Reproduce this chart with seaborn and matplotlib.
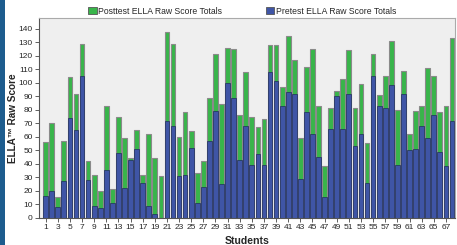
import matplotlib
matplotlib.use("Agg")
import matplotlib.pyplot as plt
import seaborn as sns
import pandas as pd
from matplotlib.patches import Rectangle, Patch

students = list(range(1, 69))
posttest = [56, 70, 15, 57, 104, 92, 129, 42, 32, 20, 83, 21, 75, 59, 44, 65, 32,
            62, 44, 31, 138, 129, 60, 78, 64, 33, 42, 89, 121, 84, 126, 125, 76,
            108, 75, 67, 73, 128, 128, 97, 135, 117, 59, 112, 125, 83, 38, 81, 94,
            103, 124, 81, 99, 55, 121, 91, 105, 131, 80, 109, 62, 79, 83, 111, 105,
            78, 83, 133]
pretest = [16, 20, 8, 27, 74, 65, 105, 28, 9, 7, 35, 11, 48, 22, 43, 51, 26,
           9, 3, 0, 72, 68, 31, 32, 52, 11, 23, 57, 79, 25, 100, 89, 43,
           68, 39, 47, 39, 108, 101, 83, 93, 92, 29, 78, 62, 45, 15, 66, 90,
           66, 92, 53, 62, 26, 105, 83, 81, 98, 39, 92, 50, 51, 68, 59, 76,
           49, 38, 72]

df = pd.DataFrame({"Student": [str(s) for s in students],
                   "Post": posttest, "Pre": pretest})

sns.set_style("white")
plt.rcParams["font.family"] = ["Liberation Sans", "DejaVu Sans"]

fig = plt.figure(figsize=(4.57, 2.45), dpi=100)
ax = fig.add_axes([0.0853, 0.1114, 0.9103, 0.8151])

green = "#38b54a"
blue = "#3f55a6"
edge = "#8a8a8a"

sns.barplot(data=df, x="Student", y="Post", color=green, saturation=1,
            width=0.78, edgecolor=edge, linewidth=0.8, ax=ax)
sns.barplot(data=df, x="Student", y="Pre", color=blue, saturation=1,
            width=0.78, edgecolor="#1f2d5c", linewidth=0.5, ax=ax)

ax.set_facecolor("#efefef")
ax.set_xlim(-1.1, 67.5)
ax.set_ylim(0, 148)
ax.set_yticks(range(0, 141, 10))
ax.set_xticks(range(0, 68, 2))
ax.set_xticklabels([str(s) for s in students[0:68:2]])
ax.tick_params(axis="both", labelsize=6, length=3, width=0.6, color="#444444",
               pad=1.5, direction="out", bottom=True, left=True)
for s in ax.spines.values():
    s.set_color("#aaaaaa")
    s.set_linewidth(0.8)
ax.spines["left"].set_color("#555555")
ax.spines["bottom"].set_color("#555555")

ax.set_xlabel("Students", fontsize=7.6, fontweight="bold")
ax.set_ylabel("ELLA\u2122 Raw Score", fontsize=7.2, fontweight="bold")
ax.xaxis.set_label_coords(0.5, -0.092)
ax.yaxis.set_label_coords(-0.05, 0.5)

handles = [Patch(facecolor=green, edgecolor="#555555", linewidth=0.6,
                 label="Posttest ELLA Raw Score Totals"),
           Patch(facecolor=blue, edgecolor="#555555", linewidth=0.6,
                 label="Pretest ELLA Raw Score Totals")]
fig.legend(handles=handles, loc="center", bbox_to_anchor=(0.53, 0.955), ncol=2,
           frameon=False, fontsize=6.2, handlelength=1.0, handleheight=1.0,
           handletextpad=0.2, columnspacing=5.0, borderaxespad=0)

fig.patches.append(Rectangle((0, 0), 5 / 457, 1, transform=fig.transFigure,
                             facecolor="#1d5c8e", edgecolor="none", zorder=10))

fig.savefig("out.png", dpi=100)
